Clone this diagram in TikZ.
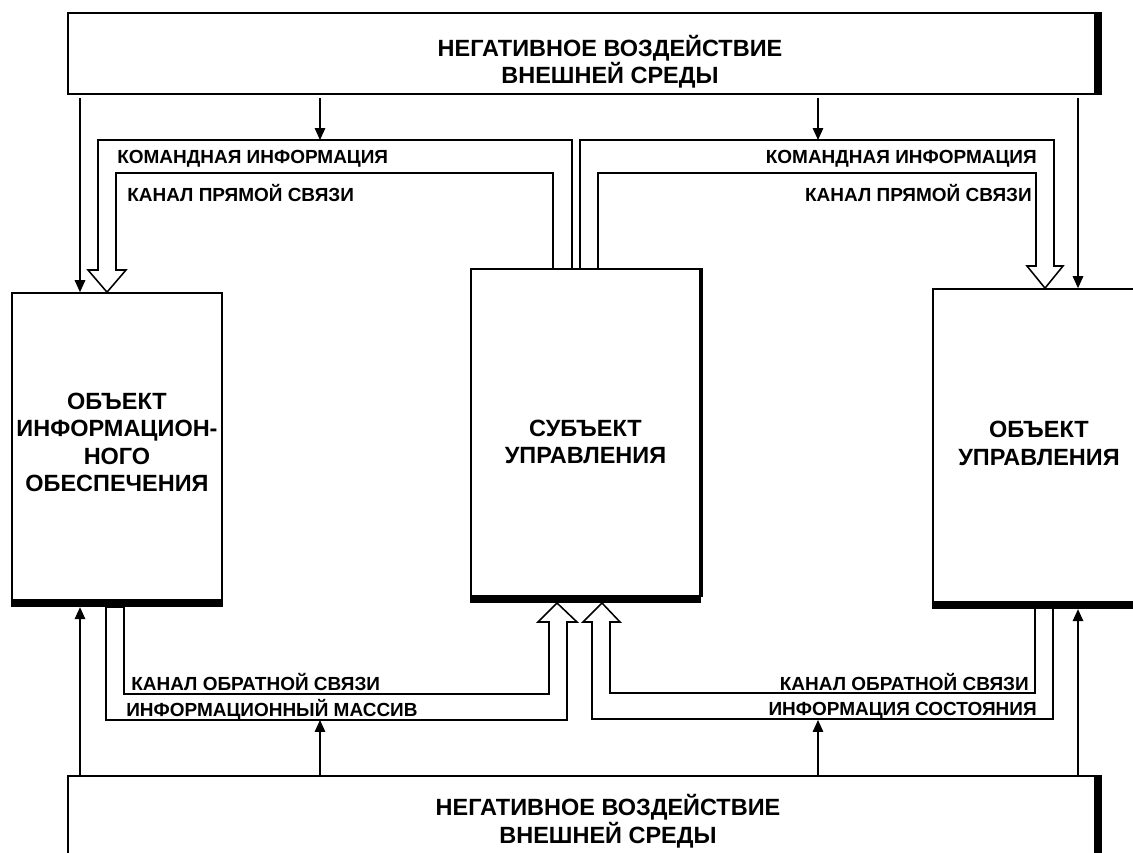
\documentclass[tikz,border=0pt]{standalone}
\usepackage{fontspec}
\setmainfont{Liberation Sans}
\usetikzlibrary{arrows.meta, fit}

\begin{document}
\begin{tikzpicture}[x=0.025cm, y=-0.025cm,
  box/.style={draw, line width=1.2pt, inner sep=0pt},
  title/.style={align=center, inner sep=0pt, font=\fontsize{16.7}{19.5}\selectfont\bfseries},
  note/.style={inner sep=0pt, font=\fontsize{13.5}{15}\selectfont\bfseries},
  shadowline/.style={line width=4.5pt},
  arr/.style={line width=0.9pt, -{Triangle[length=8.5pt,width=7.5pt]}},
  chan/.style={line width=1.1pt, line join=miter}]
\useasboundingbox (0,0) rectangle (1133,853);
% boxes
\node[box, fit={(68,13) (1095,94)}] (topenv) {};
\node[box, fit={(68,776) (1095,900)}] (botenv) {};
\node[title] (toptxt) at (610,62) {НЕГАТИВНОЕ ВОЗДЕЙСТВИЕ\\ВНЕШНЕЙ СРЕДЫ};
\node[title] (bottxt) at (608,821) {НЕГАТИВНОЕ ВОЗДЕЙСТВИЕ\\ВНЕШНЕЙ СРЕДЫ};
\node[box, fit={(12,293) (222,600)},
  label={[title, yshift=3pt]center:ОБЪЕКТ\\ИНФОРМАЦИОН-\\НОГО\\ОБЕСПЕЧЕНИЯ}] (infobj) {};
\node[box, fit={(471,269) (700,596)},
  label={[title, yshift=-6.5pt]center:СУБЪЕКТ\\УПРАВЛЕНИЯ}] (subj) {};
\node[box, fit={(933,289) (1145,602)},
  label={[title, yshift=1.5pt]center:ОБЪЕКТ\\УПРАВЛЕНИЯ}] (ctrlobj) {};
% heavy edges
\foreach \b in {topenv, botenv}
  \draw[shadowline] ([xshift=2.2pt]\b.north east) -- ([xshift=2.2pt]\b.south east);
\foreach \b in {infobj, subj, ctrlobj}
  \draw[shadowline] ([yshift=-2.2pt]\b.south west) -- ([yshift=-2.2pt]\b.south east);
\draw[line width=2pt] ([xshift=0.6pt]subj.north east) -- ([xshift=0.6pt]subj.south east);
% influence of the environment
\foreach \x/\t in {80/infobj, 1078/ctrlobj} {
  \draw[arr, shorten <=2.5pt] (topenv.south -| \x,0) -- (\t.north -| \x,0);
  \draw[arr, shorten >=4.5pt] (botenv.north -| \x,0) -- (\t.south -| \x,0);
}
\foreach \x in {320, 818} {
  \draw[arr, shorten <=2.5pt] (topenv.south -| \x,0) -- (\x,140);
  \draw[arr] (botenv.north -| \x,0) -- (\x,720);
}
% command channels
\draw[chan] (subj.north -| 572,0) |- (98,140) -- (98,270) -- ++(-10,0) -- (infobj.north -| 107,0)
  -- (126,270) -- ++(-10,0) |- (553,173) -- (subj.north -| 553,0);
\draw[chan] (subj.north -| 580,0) |- (1054,140) -- (1054,266) -- ++(9,0) -- (ctrlobj.north -| 1045,0)
  -- (1027,266) -- ++(9,0) |- (598,173) -- (subj.north -| 598,0);
% feedback channels
\draw[chan] (106,607) |- (567,720) -- (567,622) -- ++(10,0) -- (557,603) -- (538,622) -- ++(11,0)
  |- (124,694) -- (124,607) -- cycle;
\draw[chan] (1053,608) |- (592,719) -- (592,622) -- ++(-9,0) -- (602,603) -- (620,622) -- ++(-10,0)
  |- (1035,693) -- (1035,608) -- cycle;
% channel labels
\node[note, anchor=base west] (cmdl) at (117,164) {КОМАНДНАЯ ИНФОРМАЦИЯ};
\node[note, anchor=base west] (fwdl) at (127,202) {КАНАЛ ПРЯМОЙ СВЯЗИ};
\node[note, anchor=base east] (cmdr) at (1037,164) {КОМАНДНАЯ ИНФОРМАЦИЯ};
\node[note, anchor=base east] (fwdr) at (1032,202) {КАНАЛ ПРЯМОЙ СВЯЗИ};
\node[note, anchor=base west] (backl) at (131,690) {КАНАЛ ОБРАТНОЙ СВЯЗИ};
\node[note, anchor=base west] (arrl) at (126,716) {ИНФОРМАЦИОННЫЙ МАССИВ};
\node[note, anchor=base east] (backr) at (1029,690) {КАНАЛ ОБРАТНОЙ СВЯЗИ};
\node[note, anchor=base east] (stater) at (1037,715) {ИНФОРМАЦИЯ СОСТОЯНИЯ};
\end{tikzpicture}
\end{document}
